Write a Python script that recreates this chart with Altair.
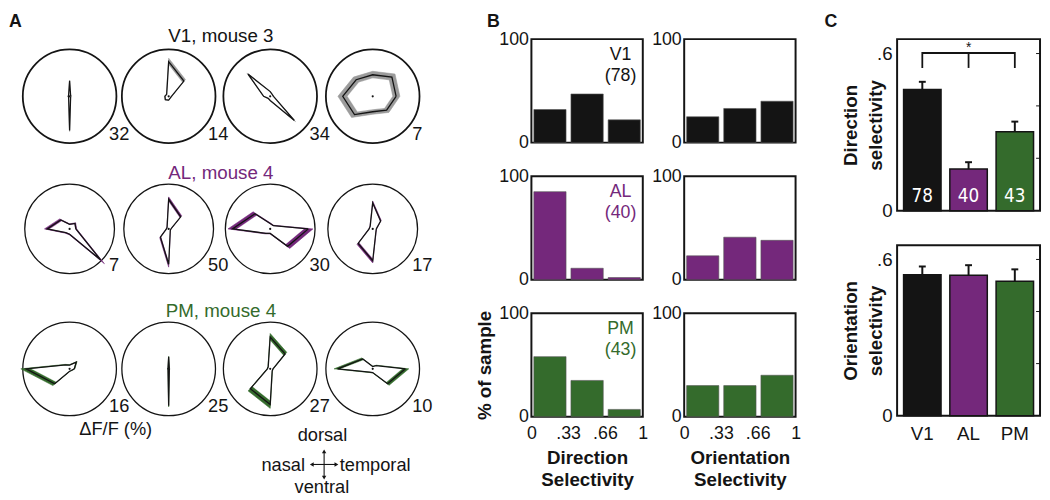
import altair as alt
import pandas as pd

FONT = "Liberation Sans"
NARROW = "Liberation Sans Narrow, DejaVu Sans Condensed, Roboto Condensed, Liberation Sans"
BLACK = "#141414"
PURPLE = "#74287B"
GREEN = "#346B2C"
GRAY = "#9B9B9B"

# ---------------- Panel A: polar tuning curves (radius as fraction of circle) ----------------
DIRECTIONS = [0, 45, 90, 135, 180, 225, 270, 315]
ROW_TITLES = ["V1, mouse 3", "AL, mouse 4", "PM, mouse 4"]

V1_TUNING = [
    [0.03, 0.03, 0.33, 0.03, 0.03, 0.03, 0.73, 0.03],
    [0.06, 0.46, 0.74, 0.06, 0.08, 0.10, 0.08, 0.05],
    [0.07, 0.06, 0.10, 0.67, 0.14, 0.06, 0.09, 0.73],
    [0.50, 0.58, 0.46, 0.50, 0.64, 0.55, 0.33, 0.42],
]
AL_TUNING = [
    [0.14, 0.17, 0.10, 0.28, 0.50, 0.12, 0.12, 0.98],
    [0.05, 0.38, 0.66, 0.05, 0.05, 0.26, 0.79, 0.05],
    [0.85, 0.10, 0.12, 0.48, 0.84, 0.14, 0.10, 0.55],
    [0.08, 0.25, 0.58, 0.08, 0.08, 0.46, 0.71, 0.10],
]
PM_TUNING = [
    [0.10, 0.20, 0.08, 0.12, 0.93, 0.45, 0.05, 0.05],
    [0.02, 0.02, 0.26, 0.02, 0.02, 0.02, 0.79, 0.02],
    [0.06, 0.45, 0.68, 0.06, 0.06, 0.60, 0.76, 0.06],
    [0.70, 0.10, 0.05, 0.30, 0.75, 0.10, 0.08, 0.45],
]
V1_BAND = [0.03, 0.10, 0.05, 0.16]
AL_BAND = [0.12, 0.08, 0.12, 0.07]
PM_BAND = [0.12, 0.03, 0.11, 0.10]
V1_DFF = [32, 14, 34, 7]
AL_DFF = [7, 50, 30, 17]
PM_DFF = [16, 25, 27, 10]

# ---------------- Panel B: histograms (% of sample) ----------------
BIN_EDGES = [0.0, 0.333, 0.667, 1.0]
AREAS = ["V1", "AL", "PM"]
AREA_N = [78, 40, 43]
V1_DS_PCT = [32, 47, 22]
AL_DS_PCT = [85, 11, 2]
PM_DS_PCT = [58, 35, 7]
V1_OS_PCT = [25, 33, 40]
AL_OS_PCT = [23, 41, 38]
PM_OS_PCT = [30, 30, 40]
B_XTICKS = [0, 0.33, 0.66, 1]

# ---------------- Panel C: mean selectivity ----------------
DS_MEAN = [0.463, 0.159, 0.301]
DS_SEM = [0.029, 0.026, 0.039]
OS_MEAN = [0.541, 0.539, 0.516]
OS_SEM = [0.032, 0.039, 0.046]
C_TICKS = [0.2, 0.4, 0.6]

AREA_COLORS = [BLACK, PURPLE, GREEN]
BAND_COLORS = [GRAY, PURPLE, GREEN]

# ================= Panel A (layout in page pixels) =================
X0, Y0 = 8, 35            # page position of this panel's plot origin
WA, HA = 450, 465
COL_CX = [69.5, 170, 273, 377]
ROW_CY = [93, 227.5, 369.5]
ROW_R = [47.5, 45.5, 47.5]
ROW_TITLE_Y = [38.3, 176.7, 316.7]
ROW_CIRCLE_W = [1.8, 1.3, 1.3]

xs = alt.Scale(domain=[X0, X0 + WA], nice=False, zero=False)
ys = alt.Scale(domain=[Y0, Y0 + HA], nice=False, zero=False, reverse=True)


def XA(f):
    return alt.X(f, scale=xs, axis=None)


def YA(f):
    return alt.Y(f, scale=ys, axis=None)


tunings = [V1_TUNING, AL_TUNING, PM_TUNING]
bands = [V1_BAND, AL_BAND, PM_BAND]
dffs = [V1_DFF, AL_DFF, PM_DFF]

poly_rows, circ_rows, num_rows = [], [], []
for i in range(3):
    for j in range(4):
        cx, cy, R = COL_CX[j], ROW_CY[i], ROW_R[i]
        circ_rows.append(dict(x=cx, y=cy, sz=4 * R * R, sw=ROW_CIRCLE_W[i]))
        num_rows.append(dict(text=str(dffs[i][j]), x=cx + 40, y=cy + 0.93 * R))
        for k in range(9):
            kk = k % 8
            poly_rows.append(dict(row=i, pid=f"{i}-{j}", k=k, ang=DIRECTIONS[kk],
                                  r=tunings[i][j][kk], e=bands[i][j], cx=cx, cy=cy, R=R))
poly_df = pd.DataFrame(poly_rows)
circ_df = pd.DataFrame(circ_rows)
num_df = pd.DataFrame(num_rows)


def poly(df, factor, **mark):
    return alt.Chart(df).transform_calculate(
        rr=f"datum.r*({factor})",
        px="datum.cx + datum.R*datum.rr*cos(datum.ang*PI/180)",
        py="datum.cy - datum.R*datum.rr*sin(datum.ang*PI/180)",
    ).mark_line(**mark).encode(x=XA("px:Q"), y=YA("py:Q"), detail="pid:N", order="k:Q")


a_layers = [
    alt.Chart(circ_df).mark_point(shape="circle", filled=False, stroke=BLACK, opacity=1).encode(
        x=XA("x:Q"), y=YA("y:Q"),
        size=alt.Size("sz:Q", scale=None, legend=None),
        strokeWidth=alt.StrokeWidth("sw:Q", scale=None, legend=None),
    )
]
for i in range(3):
    d = poly_df[poly_df.row == i]
    a_layers.append(poly(d, "1 + datum.e", fill=BAND_COLORS[i], stroke=BAND_COLORS[i], strokeWidth=0.6))
    a_layers.append(poly(d, "1 - datum.e", fill="white", stroke="white", strokeWidth=0.3))
    a_layers.append(poly(d, "1", stroke=BLACK, strokeWidth=1.3))
a_layers.append(alt.Chart(circ_df).mark_circle(size=5, color=BLACK, opacity=1).encode(x=XA("x:Q"), y=YA("y:Q")))

title_df = pd.DataFrame(dict(text=ROW_TITLES, x=[223, 223, 223], y=ROW_TITLE_Y, color=AREA_COLORS))
a_layers.append(alt.Chart(title_df).mark_text(fontSize=19, baseline="alphabetic").encode(
    x=XA("x:Q"), y=YA("y:Q"), text="text:N", color=alt.Color("color:N", scale=None)))
a_layers.append(alt.Chart(num_df).mark_text(fontSize=18.5, align="left", baseline="alphabetic", color=BLACK).encode(
    x=XA("x:Q"), y=YA("y:Q"), text="text:N"))

ANNOT_TEXT = ["ΔF/F (%)", "dorsal", "ventral"]
annot_df = pd.DataFrame(dict(text=ANNOT_TEXT, x=[116.3, 326, 325.5], y=[436.7, 442.7, 495]))
a_layers.append(alt.Chart(annot_df).mark_text(fontSize=18.5, baseline="alphabetic", color=BLACK).encode(
    x=XA("x:Q"), y=YA("y:Q"), text="text:N"))
nasal_df = pd.DataFrame(dict(text=["nasal"], x=[308.3], y=[473.3]))
temporal_df = pd.DataFrame(dict(text=["temporal"], x=[343.5], y=[473.3]))
a_layers.append(alt.Chart(nasal_df).mark_text(fontSize=18.5, align="right", baseline="alphabetic", color=BLACK).encode(
    x=XA("x:Q"), y=YA("y:Q"), text="text:N"))
a_layers.append(alt.Chart(temporal_df).mark_text(fontSize=18.5, align="left", baseline="alphabetic", color=BLACK).encode(
    x=XA("x:Q"), y=YA("y:Q"), text="text:N"))

ACX, ACY, AH, AV = 327.7, 466.5, 12.5, 13.3
cross_df = pd.DataFrame(dict(x=[ACX - AH, ACX], x2=[ACX + AH, ACX], y=[ACY, ACY - AV], y2=[ACY, ACY + AV]))
a_layers.append(alt.Chart(cross_df).mark_rule(color=BLACK, strokeWidth=1.1).encode(
    x=XA("x:Q"), x2="x2:Q", y=YA("y:Q"), y2="y2:Q"))
head_df = pd.DataFrame(dict(x=[ACX - AH, ACX + AH, ACX, ACX], y=[ACY, ACY, ACY - AV, ACY + AV],
                            shp=["triangle-left", "triangle-right", "triangle-up", "triangle-down"]))
a_layers.append(alt.Chart(head_df).mark_point(filled=True, size=20, color=BLACK, opacity=1).encode(
    x=XA("x:Q"), y=YA("y:Q"), shape=alt.Shape("shp:N", scale=None, legend=None)))

letter_a = pd.DataFrame(dict(text=["A"], x=[8], y=[22.4]))
a_layers.append(alt.Chart(letter_a).mark_text(fontSize=18, fontWeight="bold", align="left", baseline="alphabetic",
                                               color=BLACK).encode(x=XA("x:Q"), y=YA("y:Q"), text="text:N"))
panel_a = alt.layer(*a_layers).properties(width=WA, height=HA, view=alt.ViewBackground(stroke="transparent"))

# ================= Panel B =================
BW, BH = 113, 105
LABEL_X = 0.8            # area label position, in data units of the histogram axes
LABEL_Y = [80, 60]


def hist(vals, color, area, n, bottom, left, xtitle, letter):
    df = pd.DataFrame(dict(lo=BIN_EDGES[:-1], hi=BIN_EDGES[1:], pct=vals))
    if bottom:
        xaxis = alt.Axis(values=B_XTICKS, ticks=False, domain=False, grid=False, labelFlush=False,
                         labelOverlap=False,
                         labelExpr="datum.value == 0 ? '0' : datum.value == 1 ? '1' : '.' + format(datum.value*100, 'd')",
                         labelFontSize=18, labelPadding=8, labelColor=BLACK,
                         title=xtitle, titleFontSize=19, titleFontWeight="bold", titleColor=BLACK,
                         titleLineHeight=22, titlePadding=7)
    else:
        xaxis = None
    yaxis = alt.Axis(values=[0, 100], ticks=False, domain=False, grid=False, labelFontSize=18,
                     labelPadding=3, labelColor=BLACK,
                     title="% of sample" if (bottom and left) else None,
                     titleFontSize=19, titleFontWeight="bold", titleColor=BLACK, titlePadding=4)
    xscale = alt.Scale(domain=[0, 1], nice=False, zero=False)
    yscale = alt.Scale(domain=[0, 100], nice=False)
    bars = alt.Chart(df).transform_calculate(
        a="datum.lo + 0.022", b="datum.hi - 0.022"
    ).mark_bar(color=color, stroke="#555555", strokeWidth=0.6).encode(
        x=alt.X("a:Q", scale=xscale, axis=xaxis),
        x2="b:Q",
        y=alt.Y("pct:Q", scale=yscale, axis=yaxis),
        y2=alt.datum(0),
    )
    layers = [bars]
    if left:
        lab = pd.DataFrame(dict(text=[area, f"({n})"], x=[LABEL_X, LABEL_X], y=LABEL_Y))
        layers.append(alt.Chart(lab).mark_text(fontSize=18, color=color, baseline="alphabetic").encode(
            x=alt.X("x:Q", scale=xscale, axis=xaxis), y=alt.Y("y:Q", scale=yscale, axis=yaxis), text="text:N"))
    if letter:
        ld = pd.DataFrame(dict(t=[letter]))
        layers.append(alt.Chart(ld).mark_text(fontSize=18, fontWeight="bold", align="left", baseline="alphabetic",
                                              color=BLACK).encode(x=alt.value(-45), y=alt.value(-12.6), text="t:N"))
    return alt.layer(*layers).properties(width=BW, height=BH)


ds_list = [V1_DS_PCT, AL_DS_PCT, PM_DS_PCT]
os_list = [V1_OS_PCT, AL_OS_PCT, PM_OS_PCT]
b_charts = []
for i in range(3):
    b_charts.append(hist(ds_list[i], AREA_COLORS[i], AREAS[i], AREA_N[i], i == 2, True,
                         ["Direction", "Selectivity"], "B" if i == 0 else None))
    b_charts.append(hist(os_list[i], AREA_COLORS[i], AREAS[i], AREA_N[i], i == 2, False,
                         ["Orientation", "Selectivity"], None))

panel_b = alt.concat(*b_charts, columns=2, spacing=alt.RowColnumber(row=34, column=42), bounds="flush")

# ================= Panel C =================
CW = 145
cdomain = [0, 0.655]


def cbar(means, sems, ytitle, top, height):
    df = pd.DataFrame(dict(area=AREAS, mean=means, sem=sems, n=AREA_N))
    xaxis = None if top else alt.Axis(labelAngle=0, ticks=False, domain=False, title=None,
                                      labelFontSize=19, labelPadding=9, labelColor=BLACK)
    xenc = alt.X("area:N", sort=AREAS, scale=alt.Scale(paddingInner=0.19, paddingOuter=0.14), axis=xaxis)
    yaxis = alt.Axis(values=[0, 0.6], labelExpr="datum.value == 0 ? '0' : '.6'", ticks=False, domain=False,
                     grid=False, labelFontSize=19, labelPadding=5, labelColor=BLACK,
                     title=ytitle, titleFontSize=19, titleFontWeight="bold", titleColor=BLACK,
                     titleLineHeight=25, titlePadding=-9)
    yscale = alt.Scale(domain=cdomain, nice=False)
    base = alt.Chart(df).transform_calculate(top="datum.mean + datum.sem")
    bars = base.mark_bar(stroke=BLACK, strokeWidth=1.5).encode(
        x=xenc, y=alt.Y("mean:Q", scale=yscale, axis=yaxis),
        color=alt.Color("area:N", scale=alt.Scale(domain=AREAS, range=AREA_COLORS), legend=None))
    err = base.mark_rule(color=BLACK, strokeWidth=2).encode(x=xenc, y="mean:Q", y2="top:Q")
    cap = base.mark_tick(color=BLACK, thickness=2, size=7, opacity=1).encode(x=xenc, y="top:Q")
    tick_df = pd.DataFrame(dict(v=C_TICKS))
    rticks = alt.Chart(tick_df).mark_rule(color=BLACK, strokeWidth=1).encode(
        y=alt.Y("v:Q", scale=yscale), x=alt.value(CW - 4), x2=alt.value(CW))
    layers = [bars, err, cap, rticks]
    if top:
        layers.append(base.mark_text(color="white", fontSize=19, font=NARROW, baseline="middle").encode(
            x=xenc, y=alt.datum(0.056), text="n:N"))
        br_df = pd.DataFrame(dict(area=["V1", "V1", "AL", "PM", "PM"], v=[0.545, 0.602, 0.602, 0.602, 0.545],
                                  k=[0, 1, 2, 3, 4]))
        layers.append(alt.Chart(br_df).mark_line(color=BLACK, strokeWidth=1.8).encode(
            x=xenc, y=alt.Y("v:Q", scale=yscale), order="k:Q"))
        mid_df = pd.DataFrame(dict(area=["AL"], v=[0.545], v2=[0.602], s=["*"], sv=[0.622]))
        layers.append(alt.Chart(mid_df).mark_rule(color=BLACK, strokeWidth=1.8).encode(
            x=xenc, y=alt.Y("v:Q", scale=yscale), y2="v2:Q"))
        layers.append(alt.Chart(mid_df).mark_text(color=BLACK, fontSize=14, baseline="middle").encode(
            x=xenc, y=alt.Y("sv:Q", scale=yscale), text="s:N"))
        ld = pd.DataFrame(dict(t=["C"]))
        layers.append(alt.Chart(ld).mark_text(fontSize=18, fontWeight="bold", align="left", baseline="alphabetic",
                                              color=BLACK).encode(x=alt.value(-73.7), y=alt.value(-12.6), text="t:N"))
    return alt.layer(*layers).properties(width=CW, height=height)


panel_c = alt.vconcat(
    cbar(DS_MEAN, DS_SEM, ["Direction", "selectivity"], True, 174),
    cbar(OS_MEAN, OS_SEM, ["Orientation", "selectivity"], False, 173),
    spacing=35, bounds="flush",
)

chart = alt.hconcat(panel_a, panel_b, panel_c, spacing=21).properties(padding=0).configure(
    font=FONT
).configure_view(stroke=BLACK, strokeWidth=2).configure_axis(grid=False)

chart.save("out.html", embed_options={"renderer": "svg", "actions": False})
